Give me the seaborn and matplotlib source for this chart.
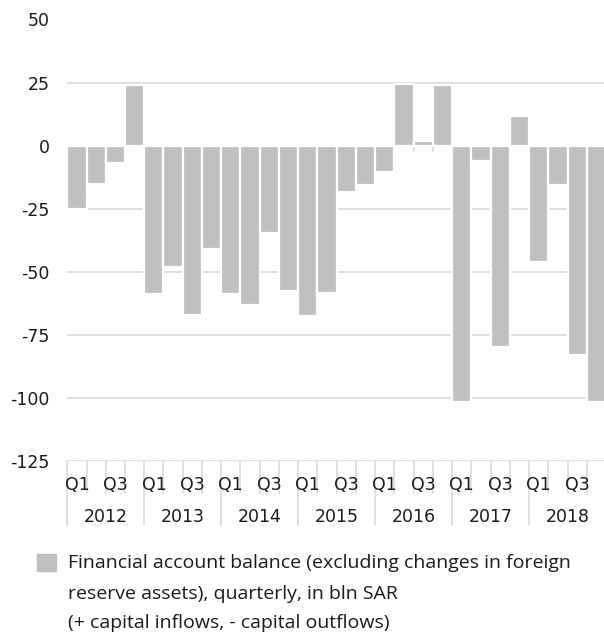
import matplotlib
matplotlib.use("Agg")
import matplotlib.pyplot as plt
import matplotlib.transforms as mtransforms
from matplotlib.patches import Rectangle
import seaborn as sns
import pandas as pd

years = ["2012", "2013", "2014", "2015", "2016", "2017", "2018"]
quarters = ["Q1", "Q2", "Q3", "Q4"]
values = [
    -25.1, -15.4, -6.8, 24.0,
    -58.7, -48.0, -67.3, -40.8,
    -58.7, -63.2, -34.8, -57.7,
    -67.7, -58.3, -18.5, -15.5,
    -10.5, 24.5, 1.7, 24.1,
    -101.7, -6.0, -79.7, 11.8,
    -46.2, -15.5, -82.9, -101.7,
]
yticks = [50, 25, 0, -25, -50, -75, -100, -125]
legend_lines = ["Financial account balance (excluding changes in foreign",
                "reserve assets), quarterly, in bln SAR",
                "(+ capital inflows, - capital outflows)"]

labels = [f"{y} {q}" for y in years for q in quarters]
df = pd.DataFrame({"period": labels, "value": values})

sns.set_theme(style="white")
plt.rcParams["font.family"] = ["DejaVu Sans"]

W, H = 604, 636
fig = plt.figure(figsize=(W / 100, H / 100), dpi=100)
left, right, top, bottom = 67.3, 606.0, 19.5, 461.0
ax = fig.add_axes([left / W, 1 - bottom / H, (right - left) / W, (bottom - top) / H])

GRID = "#d9d9d9"
BAR = "#bfbfbf"
TXT = "#1a1a1a"

for t in yticks:
    ax.axhline(t, color=GRID, lw=1.2, zorder=0)

n = len(values)
for i in range(n + 1):
    ax.plot([i - 0.5, i - 0.5], [0, -2.2], color=GRID, lw=1.2, zorder=0.5)

sns.barplot(data=df, x="period", y="value", color=BAR, width=1.0,
            edgecolor="white", linewidth=1.6, saturation=1, ax=ax, zorder=2)

ax.set_xlim(-0.5, n - 0.5)
ax.set_ylim(-125, 50)
ax.set_yticks(yticks)
ax.set_yticklabels([str(t) for t in yticks], fontsize=12.5, color=TXT)
ax.tick_params(axis="y", length=0, pad=12.5)
ax.set_xticks([])
ax.set_xlabel("")
ax.set_ylabel("")
for s in ax.spines.values():
    s.set_visible(False)

trans = mtransforms.blended_transform_factory(ax.transData, ax.transAxes)
ph = bottom - top
q_y = -(485 - bottom) / ph
y_y = -(517 - bottom) / ph
q_end = -(493 - bottom) / ph
y_end = -(525 - bottom) / ph

for i in range(n + 1):
    end = y_end if i % 4 == 0 else q_end
    ax.plot([i - 0.5, i - 0.5], [0, end], color=GRID, lw=1.2,
            transform=trans, clip_on=False, zorder=1)

for i, lab in enumerate(labels):
    q = lab.split()[1]
    if q in ("Q1", "Q3"):
        ax.text(i, q_y, q, transform=trans, ha="center", va="center",
                fontsize=12.5, color=TXT)
for k, yr in enumerate(years):
    ax.text(4 * k + 1.5, y_y, yr, transform=trans, ha="center", va="center",
            fontsize=12.5, color=TXT)

fig.patches.append(Rectangle((36.7 / W, 1 - 571 / H), 19 / W, 17 / H,
                             transform=fig.transFigure, color=BAR))
for k, line in enumerate(legend_lines):
    yc = [563, 594, 623][k]
    fig.text(68 / W, 1 - yc / H, line, ha="left", va="center",
             fontsize=14.0, color=TXT, family=["Open Sans", "DejaVu Sans"],
             transform=fig.transFigure)

fig.savefig("out.png", dpi=100)
